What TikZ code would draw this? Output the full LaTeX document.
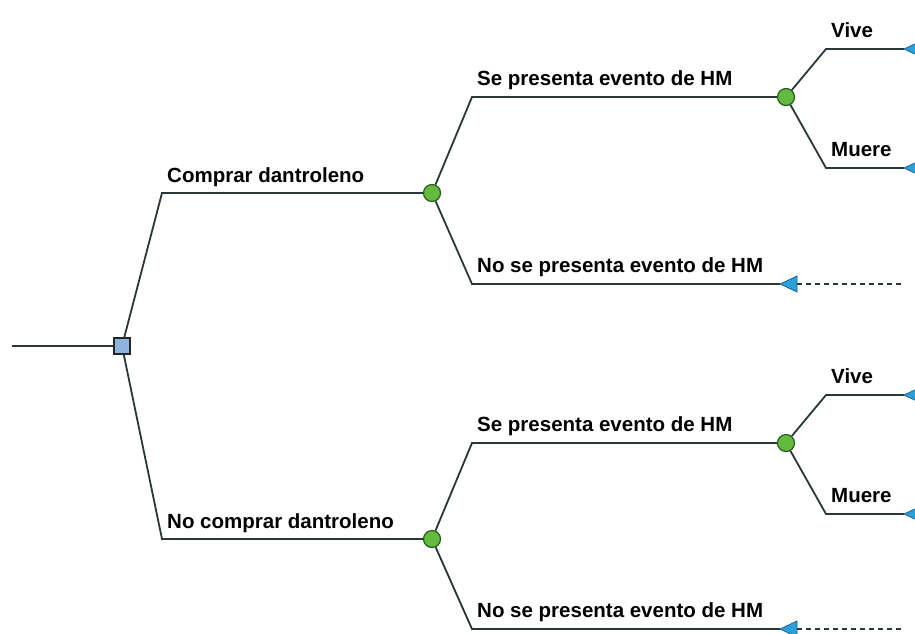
\documentclass[tikz,border=0pt]{standalone}
\usepackage{fontspec}
\setmainfont{Liberation Sans}
\definecolor{linha}{RGB}{40,56,56}
\definecolor{verde}{RGB}{100,186,62}
\definecolor{verdeesc}{RGB}{38,92,30}
\definecolor{azul}{RGB}{44,160,216}
\definecolor{azulesc}{RGB}{28,86,136}
\definecolor{quad}{RGB}{140,180,222}
\begin{document}
\begin{tikzpicture}[x=1pt,y=-1pt,
    ramo/.style={draw=linha,line width=1.8pt},
    tracejado/.style={draw=linha,line width=1.2pt,dash pattern=on 5pt off 4pt},
    decisao/.style={draw=black!85,fill=quad,line width=1.4pt,minimum size=16pt,inner sep=0pt},
    acaso/.style={circle,draw=verdeesc,fill=verde,line width=1.2pt,minimum size=17pt,inner sep=0pt},
    rotulo/.style={anchor=base west,inner sep=0pt,font=\fontsize{20.5}{22}\selectfont\bfseries}]
  \def\fim#1{\filldraw[fill=azul,draw=azulesc,line width=0.7pt] (#1) -- ++(17,-8) -- ++(0,16) -- cycle;}
  \clip (0,0) rectangle (915,633); % margens da figura
  % nos
  \coordinate (raiz) at (12,346);
  \node[decisao] (d) at (122,346) {};
  \node[acaso] (c1) at (432,193) {};
  \node[acaso] (c2) at (432,539) {};
  \node[acaso] (c11) at (786,97) {};
  \node[acaso] (c21) at (786,443) {};
  \coordinate (e1) at (162,193);   \coordinate (e2) at (162,539);
  \coordinate (e11) at (472,97);   \coordinate (e12) at (472,284);
  \coordinate (e21) at (472,443);  \coordinate (e22) at (472,629);
  \coordinate (e111) at (826,49);  \coordinate (e112) at (826,168);
  \coordinate (e211) at (826,395); \coordinate (e212) at (826,514);
  \coordinate (t111) at (904,49);  \coordinate (t112) at (904,168);
  \coordinate (t211) at (904,395); \coordinate (t212) at (904,514);
  \coordinate (t12) at (780,284);  \coordinate (f12) at (903,284);
  \coordinate (t22) at (780,629);  \coordinate (f22) at (903,629);
  % ramos
  \draw[ramo] (raiz) -- (d);
  \draw[ramo] (d) -- (e1) -- (c1);
  \draw[ramo] (d) -- (e2) -- (c2);
  \draw[ramo] (c1) -- (e11) -- (c11);
  \draw[ramo] (c1) -- (e12) -- (t12);
  \draw[ramo] (c2) -- (e21) -- (c21);
  \draw[ramo] (c2) -- (e22) -- (t22);
  \draw[ramo] (c11) -- (e111) -- (t111);
  \draw[ramo] (c11) -- (e112) -- (t112);
  \draw[ramo] (c21) -- (e211) -- (t211);
  \draw[ramo] (c21) -- (e212) -- (t212);
  \draw[tracejado] ([xshift=17pt]t12) -- (f12);
  \draw[tracejado] ([xshift=17pt]t22) -- (f22);
  \fim{t12} \fim{t22} \fim{t111} \fim{t112} \fim{t211} \fim{t212}
  % rotulos
  \path (e1) ++(5,-11) node[rotulo] (l1) {Comprar dantroleno};
  \path (e2) ++(5,-11) node[rotulo] (l2) {No comprar dantroleno};
  \path (e11) ++(5,-12) node[rotulo] (l11) {Se presenta evento de HM};
  \path (e12) ++(5,-12) node[rotulo] (l12) {No se presenta evento de HM};
  \path (e21) ++(5,-12) node[rotulo] (l21) {Se presenta evento de HM};
  \path (e22) ++(5,-12) node[rotulo] (l22) {No se presenta evento de HM};
  \path (e111) ++(5,-12) node[rotulo] (l111) {Vive};
  \path (e112) ++(5,-12) node[rotulo] (l112) {Muere};
  \path (e211) ++(5,-12) node[rotulo] (l211) {Vive};
  \path (e212) ++(5,-12) node[rotulo] (l212) {Muere};
\end{tikzpicture}
\end{document}
